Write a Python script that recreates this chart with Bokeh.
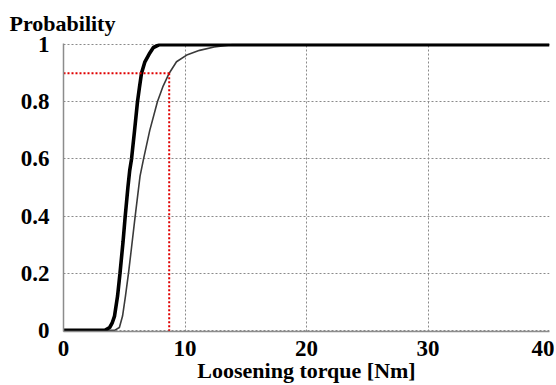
from bokeh.plotting import figure
from bokeh.models import Range1d, FixedTicker
from bokeh.embed import file_html
from bokeh.resources import INLINE

# thick curve (torque [Nm], probability)
thick_x = [0, 3.4, 3.8, 4.0, 4.2, 4.45, 4.65, 4.9, 5.08, 5.3, 5.45, 5.6, 5.85, 6.09, 6.25, 6.42, 6.7, 7.05, 7.4, 7.9, 40]
thick_p = [0, 0.0, 0.01, 0.025, 0.05, 0.12, 0.2, 0.31, 0.4, 0.5, 0.56, 0.6, 0.7, 0.8, 0.85, 0.9, 0.94, 0.967, 0.99, 1.0, 1.0]

# thin curve
thin_x = [0, 4.2, 4.6, 4.86, 5.1, 5.35, 5.6, 5.9, 6.3, 6.59, 7.1, 7.73, 8.2, 8.7, 9.3, 10.2, 11.2, 12.4, 13.9, 40]
thin_p = [0, 0.0, 0.01, 0.05, 0.12, 0.2, 0.29, 0.4, 0.54, 0.6, 0.7, 0.8, 0.855, 0.9, 0.94, 0.965, 0.98, 0.992, 1.0, 1.0]

# 90 % threshold marker
thr_hx = [0, 8.7]
thr_hp = [0.9, 0.9]
thr_vx = [8.7, 8.7]
thr_vp = [0.9, -0.05]

x_ticks = [0, 10, 20, 30, 40]
x_labels = ["0", "10", "20", "30", "40"]
y_ticks = [0, 0.2, 0.4, 0.6, 0.8, 1]
y_labels = ["0", "0.2", "0.4", "0.6", "0.8", "1"]

FONT = "Liberation Serif"
FS_TICK = "23px"
FS_LAB = "22px"

p = figure(width=554, height=385, output_backend="svg", toolbar_location=None,
           x_range=Range1d(0, 40), y_range=Range1d(-0.004, 1.004),
           min_border_left=63, min_border_top=43, min_border_bottom=54, min_border_right=5)
p.outline_line_color = None
p.background_fill_color = "white"

# title-like y label on top
p.title.text = "Probability"
p.title.align = "left"
p.title.offset = -54
p.title.standoff = 16
p.title.text_font = FONT
p.title.text_font_style = "bold"
p.title.text_font_size = FS_LAB
p.title.text_color = "black"

# axes
for ax in (p.xaxis[0], p.yaxis[0]):
    ax.axis_line_color = "#8c8c8c"
    ax.axis_line_width = 1.5
    ax.major_tick_line_color = None
    ax.minor_tick_line_color = None
    ax.major_label_text_font = FONT
    ax.major_label_text_font_style = "bold"
    ax.major_label_text_font_size = FS_TICK
    ax.major_label_text_color = "black"

p.xaxis.ticker = FixedTicker(ticks=x_ticks)
p.xaxis.major_label_overrides = dict(zip(x_ticks, x_labels))
p.xaxis.major_label_standoff = 3
p.xaxis.axis_label = "Loosening torque [Nm]"
p.xaxis.axis_label_text_font = FONT
p.xaxis.axis_label_text_font_style = "bold"
p.xaxis.axis_label_text_font_size = FS_LAB
p.xaxis.axis_label_text_color = "black"
p.xaxis.axis_label_standoff = -1

p.yaxis.ticker = FixedTicker(ticks=y_ticks)
p.yaxis.major_label_overrides = dict(zip(y_ticks, y_labels))
p.yaxis.major_label_standoff = 8

# grid
p.xgrid.ticker = FixedTicker(ticks=x_ticks)
p.ygrid.ticker = FixedTicker(ticks=y_ticks)
for g in (p.xgrid[0], p.ygrid[0]):
    g.grid_line_color = "#8a8a8a"
    g.grid_line_dash = "2 2"
    g.grid_line_width = 1

# curves
p.line(thin_x, thin_p, line_color="#3a3a3a", line_width=1.6)
p.line(thick_x, thick_p, line_color="black", line_width=3.6)

# threshold
p.line(thr_hx, thr_hp, line_color="#e00000", line_width=2, line_dash="2 2")
p.line(thr_vx, thr_vp, line_color="#e00000", line_width=2, line_dash="2 2")

open("out.html", "w").write(file_html(p, INLINE))
